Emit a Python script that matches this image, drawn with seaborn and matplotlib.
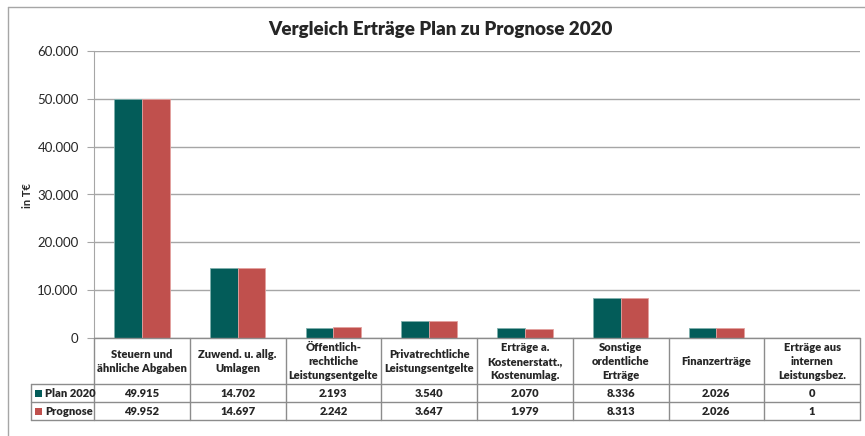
import numpy as np
import pandas as pd
import matplotlib
matplotlib.use('Agg')
import matplotlib.pyplot as plt
import seaborn as sns
from matplotlib.lines import Line2D
from matplotlib.patches import Rectangle

# data (in T€)
categories = ['Steuern und\nähnliche Abgaben', 'Zuwend. u. allg.\nUmlagen',
              'Öffentlich-\nrechtliche\nLeistungsentgelte', 'Privatrechtliche\nLeistungsentgelte',
              'Erträge a.\nKostenerstatt.,\nKostenumlag.', 'Sonstige\nordentliche\nErträge',
              'Finanzerträge', 'Erträge aus\ninternen\nLeistungsbez.']
series = ['Plan 2020', 'Prognose']
plan_2020 = [49915, 14702, 2193, 3540, 2070, 8336, 2026, 0]
prognose = [49952, 14697, 2242, 3647, 1979, 8313, 2026, 1]
y_ticks = [0, 10000, 20000, 30000, 40000, 50000, 60000]

teal = '#035C59'
red = '#C0504D'
grid_col = '#A6A6A6'

df = pd.DataFrame({
    'cat': categories * 2,
    'series': [series[0]] * len(categories) + [series[1]] * len(categories),
    'value': plan_2020 + prognose,
})

def de(v):
    return f'{v:,}'.replace(',', '.')

sns.set_style('white')
plt.rcParams['font.family'] = ['Lato', 'DejaVu Sans']

W, H = 865, 436
fig = plt.figure(figsize=(W / 100, H / 100), dpi=100)
left, right, top, bottom = 94, 860, 51, 338
ax = fig.add_axes([left / W, 1 - bottom / H, (right - left) / W, (bottom - top) / H])

sns.barplot(data=df, x='cat', y='value', hue='series', palette=[teal, red],
            width=0.58, legend=False, ax=ax, saturation=1)
for p in ax.patches:
    fc = p.get_facecolor()
    p.set_edgecolor('#7FB0AD' if abs(fc[0] - 0.012) < 0.05 else '#E3A09E')
    p.set_linewidth(0.6)

ax.set_xlim(-0.5, len(categories) - 0.5)
ax.set_ylim(0, 60000)
ax.set_yticks(y_ticks)
ax.set_yticklabels([de(t) for t in y_ticks], fontsize=9.5, color='#262626')
ax.yaxis.grid(True, color=grid_col, lw=1)
ax.set_axisbelow(True)
ax.tick_params(axis='y', length=5, color=grid_col, pad=6, left=True)
ax.set_xticks([])
ax.set_xlabel('')
ax.set_ylabel('')
for s in ['top', 'right', 'bottom']:
    ax.spines[s].set_visible(False)
ax.spines['left'].set_color(grid_col)

fig.text(28 / W, 1 - 195 / H, 'in T€', rotation=90, ha='center', va='center',
         fontsize=8, fontweight='bold')
fig.text(440 / W, 1 - 29 / H, 'Vergleich Erträge Plan zu Prognose 2020',
         ha='center', va='center', fontsize=13.5, fontweight='heavy')

# outer chart border (cropped at right / bottom)
fig.add_artist(Line2D([8 / W, 8 / W], [0, 1 - 7 / H], transform=fig.transFigure, color=grid_col, lw=1))
fig.add_artist(Line2D([8 / W, 1], [1 - 7 / H, 1 - 7 / H], transform=fig.transFigure, color=grid_col, lw=1))

# data table below the axis
def fy(py):
    return 1 - py / H

def fx(px):
    return px / W

col_w = (right - left) / len(categories)
row_top, row_hdr, row_1, row_2 = 338, 384, 402, 420
leg_x = 31
tc = '#8C8C8C'
for i in range(len(categories) + 1):
    x = fx(left + i * col_w)
    fig.add_artist(Line2D([x, x], [fy(row_top), fy(row_2)], transform=fig.transFigure, color=tc, lw=1))
fig.add_artist(Line2D([fx(left), fx(right)], [fy(row_top), fy(row_top)], transform=fig.transFigure, color=tc, lw=1))
for ry in [row_hdr, row_1, row_2]:
    fig.add_artist(Line2D([fx(leg_x), fx(right)], [fy(ry), fy(ry)], transform=fig.transFigure, color=tc, lw=1))
fig.add_artist(Line2D([fx(leg_x), fx(leg_x)], [fy(row_hdr), fy(row_2)], transform=fig.transFigure, color=tc, lw=1))

for i, c in enumerate(categories):
    cx = fx(left + (i + 0.5) * col_w)
    fig.text(cx, fy((row_top + row_hdr) / 2 + 0.5), c, ha='center', va='center',
             fontsize=8, fontweight='heavy', linespacing=1.3)
    fig.text(cx, fy((row_hdr + row_1) / 2), de(plan_2020[i]), ha='center', va='center',
             fontsize=8, fontweight='heavy')
    fig.text(cx, fy((row_1 + row_2) / 2), de(prognose[i]), ha='center', va='center',
             fontsize=8, fontweight='heavy')

for (r0, r1), name, col in zip([(row_hdr, row_1), (row_1, row_2)], series, [teal, red]):
    ym = (r0 + r1) / 2
    fig.add_artist(Rectangle((fx(35), fy(ym + 3.5)), 7 / W, 7 / H, transform=fig.transFigure,
                             facecolor=col, edgecolor='none'))
    fig.text(fx(45), fy(ym), name, ha='left', va='center', fontsize=8, fontweight='heavy')

fig.savefig('out.png', dpi=100)
